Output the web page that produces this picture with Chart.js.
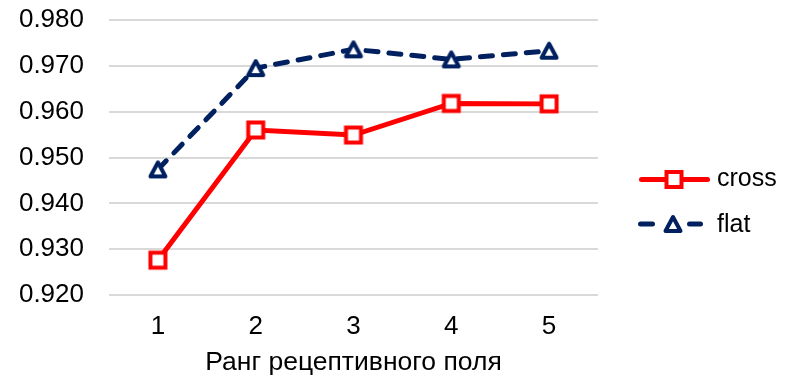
<!DOCTYPE html>
<html>
<head>
<meta charset="utf-8">
<script src="https://cdn.jsdelivr.net/npm/chart.js@4"></script>
<style>
  html, body { margin: 0; padding: 0; background: #fff; }
  #wrap { width: 796px; height: 379px; }
</style>
</head>
<body>
<div id="wrap"><canvas id="c" width="796" height="379"></canvas></div>
<script>
const categories = ['1', '2', '3', '4', '5'];
const crossValues = [0.9276, 0.9560, 0.9549, 0.9618, 0.9617];
const flatValues = [0.9474, 0.9695, 0.9736, 0.9714, 0.9733];
const seriesNames = ['cross', 'flat'];
const xTitle = 'Ранг рецептивного поля';

const RED = '#FF0000';
const NAVY = '#002060';
const FONT = 'Liberation Sans, Arial, sans-serif';

// marker drawn centred on its bounding box (like the reference)
function drawTriangle(ctx, cx, cy) {
  ctx.save();
  ctx.strokeStyle = NAVY; ctx.fillStyle = '#fff';
  ctx.lineWidth = 4; ctx.lineJoin = 'round';
  ctx.beginPath();
  ctx.moveTo(cx, cy - 7);
  ctx.lineTo(cx + 7.5, cy + 7);
  ctx.lineTo(cx - 7.5, cy + 7);
  ctx.closePath();
  ctx.fill(); ctx.stroke();
  ctx.restore();
}
function drawSquare(ctx, cx, cy) {
  ctx.save();
  ctx.strokeStyle = RED; ctx.fillStyle = '#fff'; ctx.lineWidth = 4;
  ctx.beginPath(); ctx.rect(cx - 7.5, cy - 7.5, 15, 15);
  ctx.fill(); ctx.stroke();
  ctx.restore();
}
const triCanvas = document.createElement('canvas');
triCanvas.width = 24; triCanvas.height = 24;
drawTriangle(triCanvas.getContext('2d'), 12, 12);
const sqCanvas = document.createElement('canvas');
sqCanvas.width = 24; sqCanvas.height = 24;
drawSquare(sqCanvas.getContext('2d'), 12, 12);

const legendPlugin = {
  id: 'lineLegend',
  afterDraw(chart) {
    const ctx = chart.ctx;
    ctx.save();
    // cross
    let y = 179.5;
    ctx.strokeStyle = RED; ctx.lineWidth = 5; ctx.lineCap = 'round';
    ctx.beginPath(); ctx.moveTo(641.5, y); ctx.lineTo(707.5, y); ctx.stroke();
    drawSquare(ctx, 674, y);
    // flat
    y = 224;
    ctx.strokeStyle = NAVY; ctx.lineWidth = 5; ctx.lineCap = 'round';
    ctx.beginPath(); ctx.moveTo(640.5, y); ctx.lineTo(652.5, y); ctx.stroke();
    ctx.beginPath(); ctx.moveTo(689.5, y); ctx.lineTo(700.5, y); ctx.stroke();
    drawTriangle(ctx, 673, y);
    ctx.fillStyle = '#000';
    ctx.font = '25px ' + FONT;
    ctx.textBaseline = 'middle'; ctx.textAlign = 'left';
    ctx.fillText(seriesNames[0], 717, 179);
    ctx.fillText(seriesNames[1], 717, 225);
    ctx.restore();
  }
};

function zeroPad(scale) {
  scale.paddingTop = 0; scale.paddingBottom = 0;
  scale.paddingLeft = 0; scale.paddingRight = 0;
}

new Chart(document.getElementById('c'), {
  type: 'line',
  data: {
    labels: categories,
    datasets: [
      {
        label: seriesNames[0],
        data: crossValues,
        borderColor: RED,
        borderWidth: 5,
        pointStyle: sqCanvas,
        pointRadius: 10,
        pointBackgroundColor: '#fff',
        pointBorderColor: RED,
        tension: 0
      },
      {
        label: seriesNames[1],
        data: flatValues,
        borderColor: NAVY,
        borderWidth: 5,
        borderDash: [12, 11],
        borderCapStyle: 'round',
        pointStyle: triCanvas,
        pointRadius: 10,
        pointBackgroundColor: '#fff',
        pointBorderColor: NAVY,
        tension: 0
      }
    ]
  },
  options: {
    responsive: false,
    animation: false,
    devicePixelRatio: 1,
    layout: { padding: { top: 20, right: 198, left: 0, bottom: 0 } },
    plugins: { legend: { display: false }, tooltip: { enabled: false } },
    scales: {
      x: {
        offset: true,
        grid: { display: false, drawTicks: false },
        border: { display: false },
        ticks: { color: '#000', font: { family: FONT, size: 26 }, padding: 16 },
        title: { display: true, text: xTitle, color: '#000', font: { family: FONT, size: 26.5 }, padding: { top: 0, bottom: 0 } },
        afterFit(scale) { scale.height = 84; zeroPad(scale); }
      },
      y: {
        min: 0.92,
        max: 0.98,
        grid: { color: '#D9D9D9', lineWidth: 2, drawTicks: false },
        border: { display: false },
        ticks: {
          stepSize: 0.01,
          color: '#000',
          font: { family: FONT, size: 26 },
          padding: 25,
          callback: v => Number(v).toFixed(3)
        },
        afterFit(scale) { scale.width = 109; zeroPad(scale); }
      }
    }
  },
  plugins: [legendPlugin]
});
</script>
</body>
</html>
